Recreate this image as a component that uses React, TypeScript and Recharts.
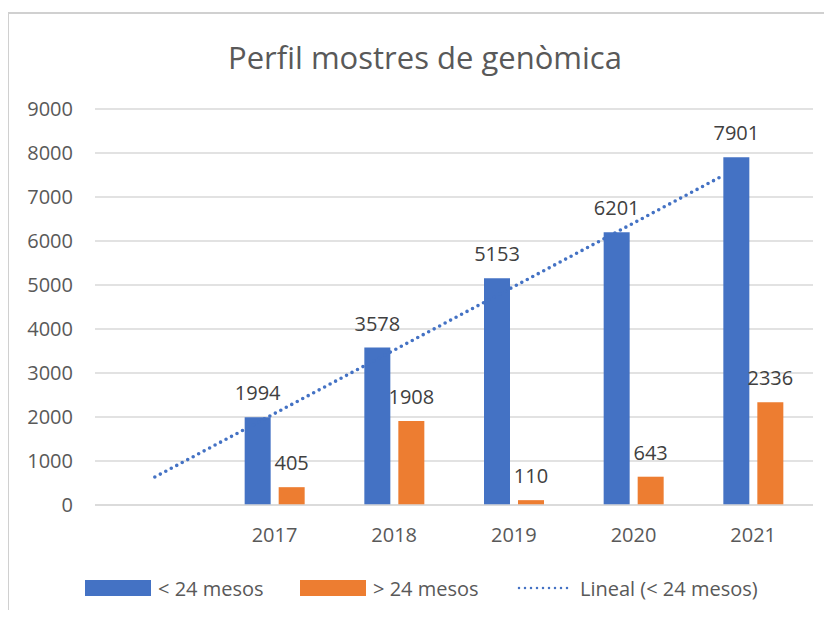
import React from "react";
import {
  ComposedChart, Bar, Line, XAxis, YAxis, CartesianGrid, LabelList,
} from "recharts";

// Categories (first one is empty in the source sheet)
const YEARS = ["", "2017", "2018", "2019", "2020", "2021"];
const UNDER_24 = [null, 1994, 3578, 5153, 6201, 7901];
const OVER_24 = [null, 405, 1908, 110, 643, 2336];
// Excel linear trendline of "< 24 mesos" (category units)
const TREND_POS = [0.5, 5.23];
const TREND_VAL = [636, 7460];
const Y_TICKS = [0, 1000, 2000, 3000, 4000, 5000, 6000, 7000, 8000, 9000];

const BLUE = "#4472C4";
const ORANGE = "#ED7D31";
const AXIS_TEXT = "#595959";
const LABEL_TEXT = "#404040";
const GRID = "#d9d9d9";
const FONT = '"Open Sans", "Noto Sans", sans-serif';

const data = YEARS.map((y, i) => ({ year: y, under: UNDER_24[i], over: OVER_24[i] }));
const trend = TREND_POS.map((x, i) => ({ x, v: TREND_VAL[i] }));

const fmt = (v: unknown) => (v == null ? "" : String(v));

function LegendRow() {
  const items = [
    { label: "< 24 mesos", kind: "rect", color: BLUE, left: 85 },
    { label: "> 24 mesos", kind: "rect", color: ORANGE, left: 300 },
    { label: "Lineal (< 24 mesos)", kind: "dots", color: BLUE, left: 517 },
  ];
  return (
    <>
      {items.map((it) => (
        <div
          key={it.label}
          style={{
            position: "absolute", left: it.left, top: 576, height: 24,
            display: "flex", alignItems: "center", gap: 7,
            fontSize: 20, color: AXIS_TEXT, whiteSpace: "nowrap",
          }}
        >
          {it.kind === "rect" ? (
            <span style={{ width: 66, height: 16, background: it.color, display: "inline-block" }} />
          ) : (
            <svg width={56} height={16}>
              <line x1={2} y1={8} x2={54} y2={8} stroke={it.color} strokeWidth={2.5}
                strokeDasharray="0 6" strokeLinecap="round" />
            </svg>
          )}
          <span>{it.label}</span>
        </div>
      ))}
    </>
  );
}

export default function App() {
  return (
    <div
      style={{
        position: "relative", width: 832, height: 618, margin: -8,
        background: "#fff", overflow: "hidden", fontFamily: FONT,
      }}
    >
      {/* chart frame, runs off the right and bottom edges */}
      <div style={{
        position: "absolute", left: 7, top: 12, width: 860, height: 640,
        borderLeft: "2px solid #d0d0d0", borderTop: "2px solid #d0d0d0",
      }} />

      <div style={{
        position: "absolute", left: 0, top: 36, width: 850, textAlign: "center",
        fontSize: 31, color: AXIS_TEXT, lineHeight: "42px",
      }}>
        Perfil mostres de genòmica
      </div>

      <div style={{ position: "absolute", left: 0, top: 0 }}>
        <ComposedChart
          width={832}
          height={618}
          data={data}
          margin={{ top: 109, right: 19, bottom: 83, left: 0 }}
          barSize={26}
          barGap={8}
        >
          <CartesianGrid vertical={false} stroke={GRID} strokeWidth={1.5} />
          <XAxis
            dataKey="year"
            axisLine={{ stroke: GRID, strokeWidth: 1.5 }}
            tickLine={false}
            tickSize={0}
            tickMargin={23}
            height={30}
            tick={{ fontSize: 20, fill: AXIS_TEXT, fontFamily: FONT }}
          />
          <XAxis xAxisId="num" type="number" dataKey="x" domain={[0, 6]} allowDataOverflow hide />
          <YAxis
            width={95}
            domain={[0, 9000]}
            ticks={Y_TICKS}
            axisLine={false}
            tickLine={false}
            tickSize={0}
            tickMargin={22}
            tick={{ fontSize: 20, fill: AXIS_TEXT, fontFamily: FONT }}
          />
          <Bar dataKey="under" fill={BLUE} isAnimationActive={false}>
            <LabelList dataKey="under" position="top" offset={17} formatter={fmt}
              style={{ fontSize: 20, fill: LABEL_TEXT, fontFamily: FONT }} />
          </Bar>
          <Bar dataKey="over" fill={ORANGE} isAnimationActive={false}>
            <LabelList dataKey="over" position="top" offset={17} formatter={fmt}
              style={{ fontSize: 20, fill: LABEL_TEXT, fontFamily: FONT }} />
          </Bar>
          <Line
            xAxisId="num"
            data={trend}
            dataKey="v"
            stroke={BLUE}
            strokeWidth={3.6}
            strokeDasharray="0 6.2"
            strokeLinecap="round"
            dot={false}
            activeDot={false}
            isAnimationActive={false}
          />
        </ComposedChart>
      </div>

      <LegendRow />
    </div>
  );
}
